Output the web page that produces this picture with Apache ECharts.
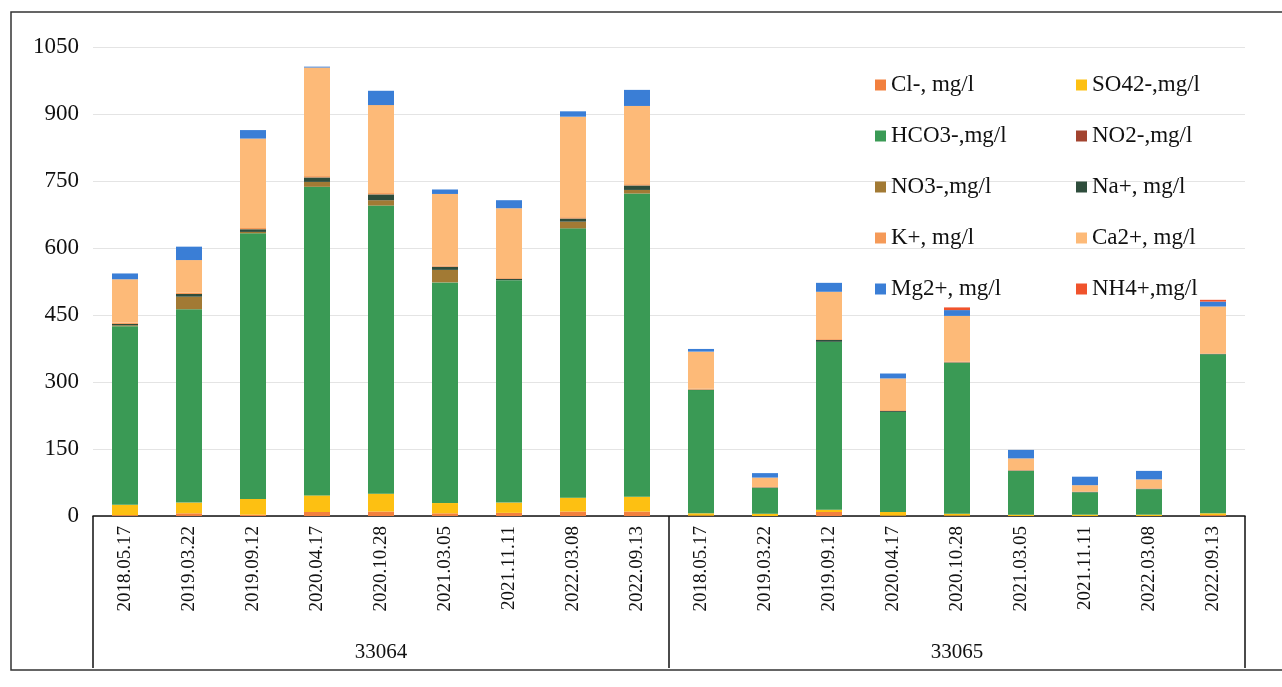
<!DOCTYPE html>
<html>
<head>
<meta charset="utf-8">
<script src="https://cdn.jsdelivr.net/npm/echarts@6/dist/echarts.min.js"></script>
<style>
html,body{margin:0;padding:0;background:#fff;}
#chart{width:1282px;height:687px;}
</style>
</head>
<body>
<div id="chart"></div>
<script>
// Categories
const dates = ['2018.05.17','2019.03.22','2019.09.12','2020.04.17','2020.10.28','2021.03.05','2021.11.11','2022.03.08','2022.09.13',
               '2018.05.17','2019.03.22','2019.09.12','2020.04.17','2020.10.28','2021.03.05','2021.11.11','2022.03.08','2022.09.13'];
const groups = ['33064','33065'];
const yTicks = [0,150,300,450,600,750,900,1050];

// Series values (mg/l), stacked in this order
const cl   = [2,6,3,9,10,6,7,10,10,     1,0,9,1,1,0,0,0,2];
const so4  = [23,24,35,37,40,23,23,31,33, 5,5,5,8,4,3,3,3,4];
const hco3 = [400,433,595,691,645,494,498,603,679, 276,58,376,224,338,98,50,57,356];
const no2  = [0,0,0,0,0,0,0,0,0,       0,0,0,0,0,0,0,0,0];
const no3  = [2,28,3,11,12,28,0,15,8,  0,0,0,0,0,0,0,0,0];
const na   = [3,6,6,10,13,7,3,7,10,    1,1,4,2,1,1,1,1,1];
const k    = [3,3,3,3,3,3,2,3,3,       2,1,2,2,2,1,1,1,1];
const ca   = [97,73,200,243,197,160,156,225,175, 83,21,106,71,102,26,14,20,105];
const mg   = [13,30,19,2,32,10,18,12,36, 6,10,20,11,13,19,19,19,11];
const nh4  = [0,0,0,0,0,0,0,0,0,       0,0,0,0,6,0,0,0,4];

const names  = ['Cl-, mg/l','SO42-,mg/l','HCO3-,mg/l','NO2-,mg/l','NO3-,mg/l','Na+, mg/l','K+, mg/l','Ca2+, mg/l','Mg2+, mg/l','NH4+,mg/l'];
const values = [cl,so4,hco3,no2,no3,na,k,ca,mg,nh4];
const colors = ['#F2803E','#FDC012','#3A9A55','#A2432F','#A27A34','#2E4D3C','#F59A58','#FDBA78','#3A7ED6','#F0532C'];

const serif = 'Liberation Serif';
const chart = echarts.init(document.getElementById('chart'));
chart.setOption({
  animation:false,
  backgroundColor:'#fff',
  grid:{left:93,right:37,top:47,bottom:171},
  legend:[
    {left:870,top:68,orient:'vertical',icon:'rect',itemWidth:11,itemHeight:11,itemGap:27,
     textStyle:{fontFamily:serif,fontSize:23,color:'#111',lineHeight:24},
     data:[names[0],names[2],names[4],names[6],names[8]]},
    {left:1071,top:68,orient:'vertical',icon:'rect',itemWidth:11,itemHeight:11,itemGap:27,
     textStyle:{fontFamily:serif,fontSize:23,color:'#111',lineHeight:24},
     data:[names[1],names[3],names[5],names[7],names[9]]}
  ],
  xAxis:[
    {type:'category',data:dates,position:'bottom',
     axisLine:{lineStyle:{color:'#111',width:1.5}},axisTick:{show:false},
     axisLabel:{rotate:90,fontFamily:serif,fontSize:19,color:'#111',margin:10,interval:0}},
    {type:'category',data:groups,position:'bottom',
     axisLine:{show:false},
     axisTick:{show:true,length:152,lineStyle:{color:'#111',width:1.5}},
     axisLabel:{fontFamily:serif,fontSize:21,color:'#111',margin:126}}
  ],
  yAxis:{type:'value',min:yTicks[0],max:yTicks[yTicks.length-1],interval:150,
    axisLine:{show:false},axisTick:{show:false},
    splitLine:{lineStyle:{color:'#e4e4e4',width:1}},
    axisLabel:{fontFamily:serif,fontSize:23,color:'#111',margin:14,formatter:v=>String(v)}},
  series:names.map((n,i)=>({
    name:n,type:'bar',stack:'total',xAxisIndex:0,barWidth:26,
    itemStyle:{color:colors[i]},data:values[i]
  })),
  graphic:[{type:'rect',shape:{x:11,y:12,width:1290,height:658},
    style:{fill:'none',stroke:'#333',lineWidth:1.5},silent:true}]
});
</script>
</body>
</html>
